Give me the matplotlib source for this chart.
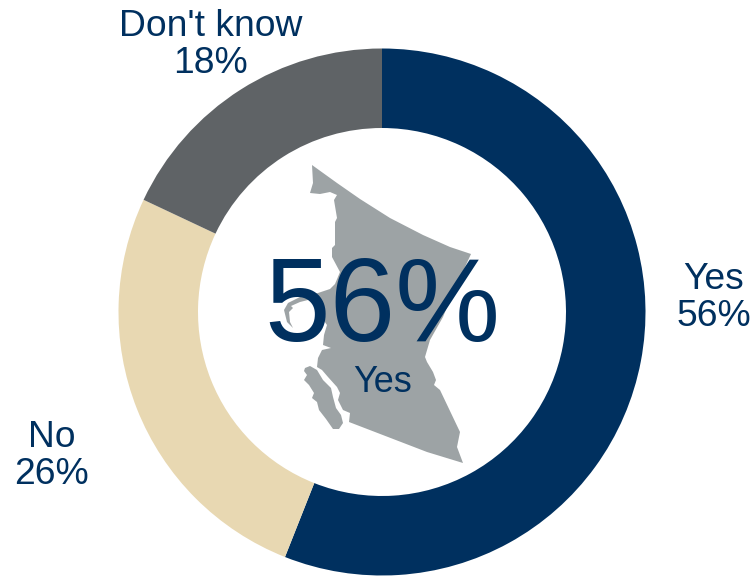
import matplotlib
matplotlib.use('Agg')
import matplotlib.pyplot as plt
from matplotlib.patches import Polygon

plt.rcParams['font.family'] = ['Liberation Sans', 'DejaVu Sans']

# --- Data ---
categories = ['Yes', 'No', "Don't know"]
values = [56, 26, 18]
colors = ['#00305F', '#E8D8B2', '#5F6366']
NAVY = '#00305F'
MAP_GREY = '#9DA3A5'

# Province outline (px, y down)
mainland = [(312, 165), (337, 183), (360, 199), (390, 218), (423, 235), (450, 247), (471, 254),
            (465, 267), (457, 283), (443, 317), (430, 340), (425, 357), (427, 362), (433, 372),
            (436, 380), (434, 385), (440, 390), (450, 411), (460, 432), (457, 447), (463, 463),
            (427, 452), (375, 432), (349, 422), (350, 413), (343, 410), (338, 400), (340, 393),
            (337, 387), (328, 377), (322, 370), (317, 367), (318, 358), (322, 350), (331, 348),
            (323, 345), (324, 335), (327, 325), (322, 318), (316, 312), (315, 305), (312, 299),
            (300, 302), (291, 306), (293, 308), (289, 312), (290, 322), (293, 328), (287, 322),
            (284, 310), (288, 303), (300, 297), (318, 293), (330, 289), (335, 284), (340, 272),
            (332, 257), (332, 248), (335, 245), (335, 222), (337, 218), (334, 200), (337, 195),
            (330, 192), (320, 194), (310, 193), (313, 183)]
island = [(305, 368), (310, 366), (317, 370), (323, 380), (331, 388), (333, 397), (336, 408),
          (341, 415), (343, 423), (339, 429), (333, 429), (326, 419), (319, 410), (317, 402),
          (312, 398), (314, 393), (309, 385), (304, 380), (307, 375), (304, 371)]

W, H = 754, 576
fig = plt.figure(figsize=(W / 100, H / 100), dpi=100)
ax = fig.add_axes([0, 0, 1, 1])

ax.pie(values, colors=colors, startangle=90, counterclock=False, radius=263.5,
       center=(382, H - 312), frame=True,
       wedgeprops=dict(width=79.5, linewidth=0))
ax.set_xlim(0, W)
ax.set_ylim(0, H)
ax.set_aspect('equal')
ax.axis('off')

for shape in (mainland, island):
    ax.add_patch(Polygon([(x, H - y) for x, y in shape], closed=True,
                         facecolor=MAP_GREY, edgecolor='none', zorder=3))

ax.text(382, H - 311, '56%', color=NAVY, fontsize=85, ha='center', va='center', zorder=4)
ax.text(383, H - 382, 'Yes', color=NAVY, fontsize=26, ha='center', va='center', zorder=4)

label_pos = [(714, 298), (52, 456), (211, 45)]
for cat, val, (x, y) in zip(categories, values, label_pos):
    ax.text(x, H - y, f'{cat}\n{val}%', color=NAVY, fontsize=26.8, ha='center', va='center',
            linespacing=1.08, zorder=4)

fig.savefig('out.png', dpi=100)
